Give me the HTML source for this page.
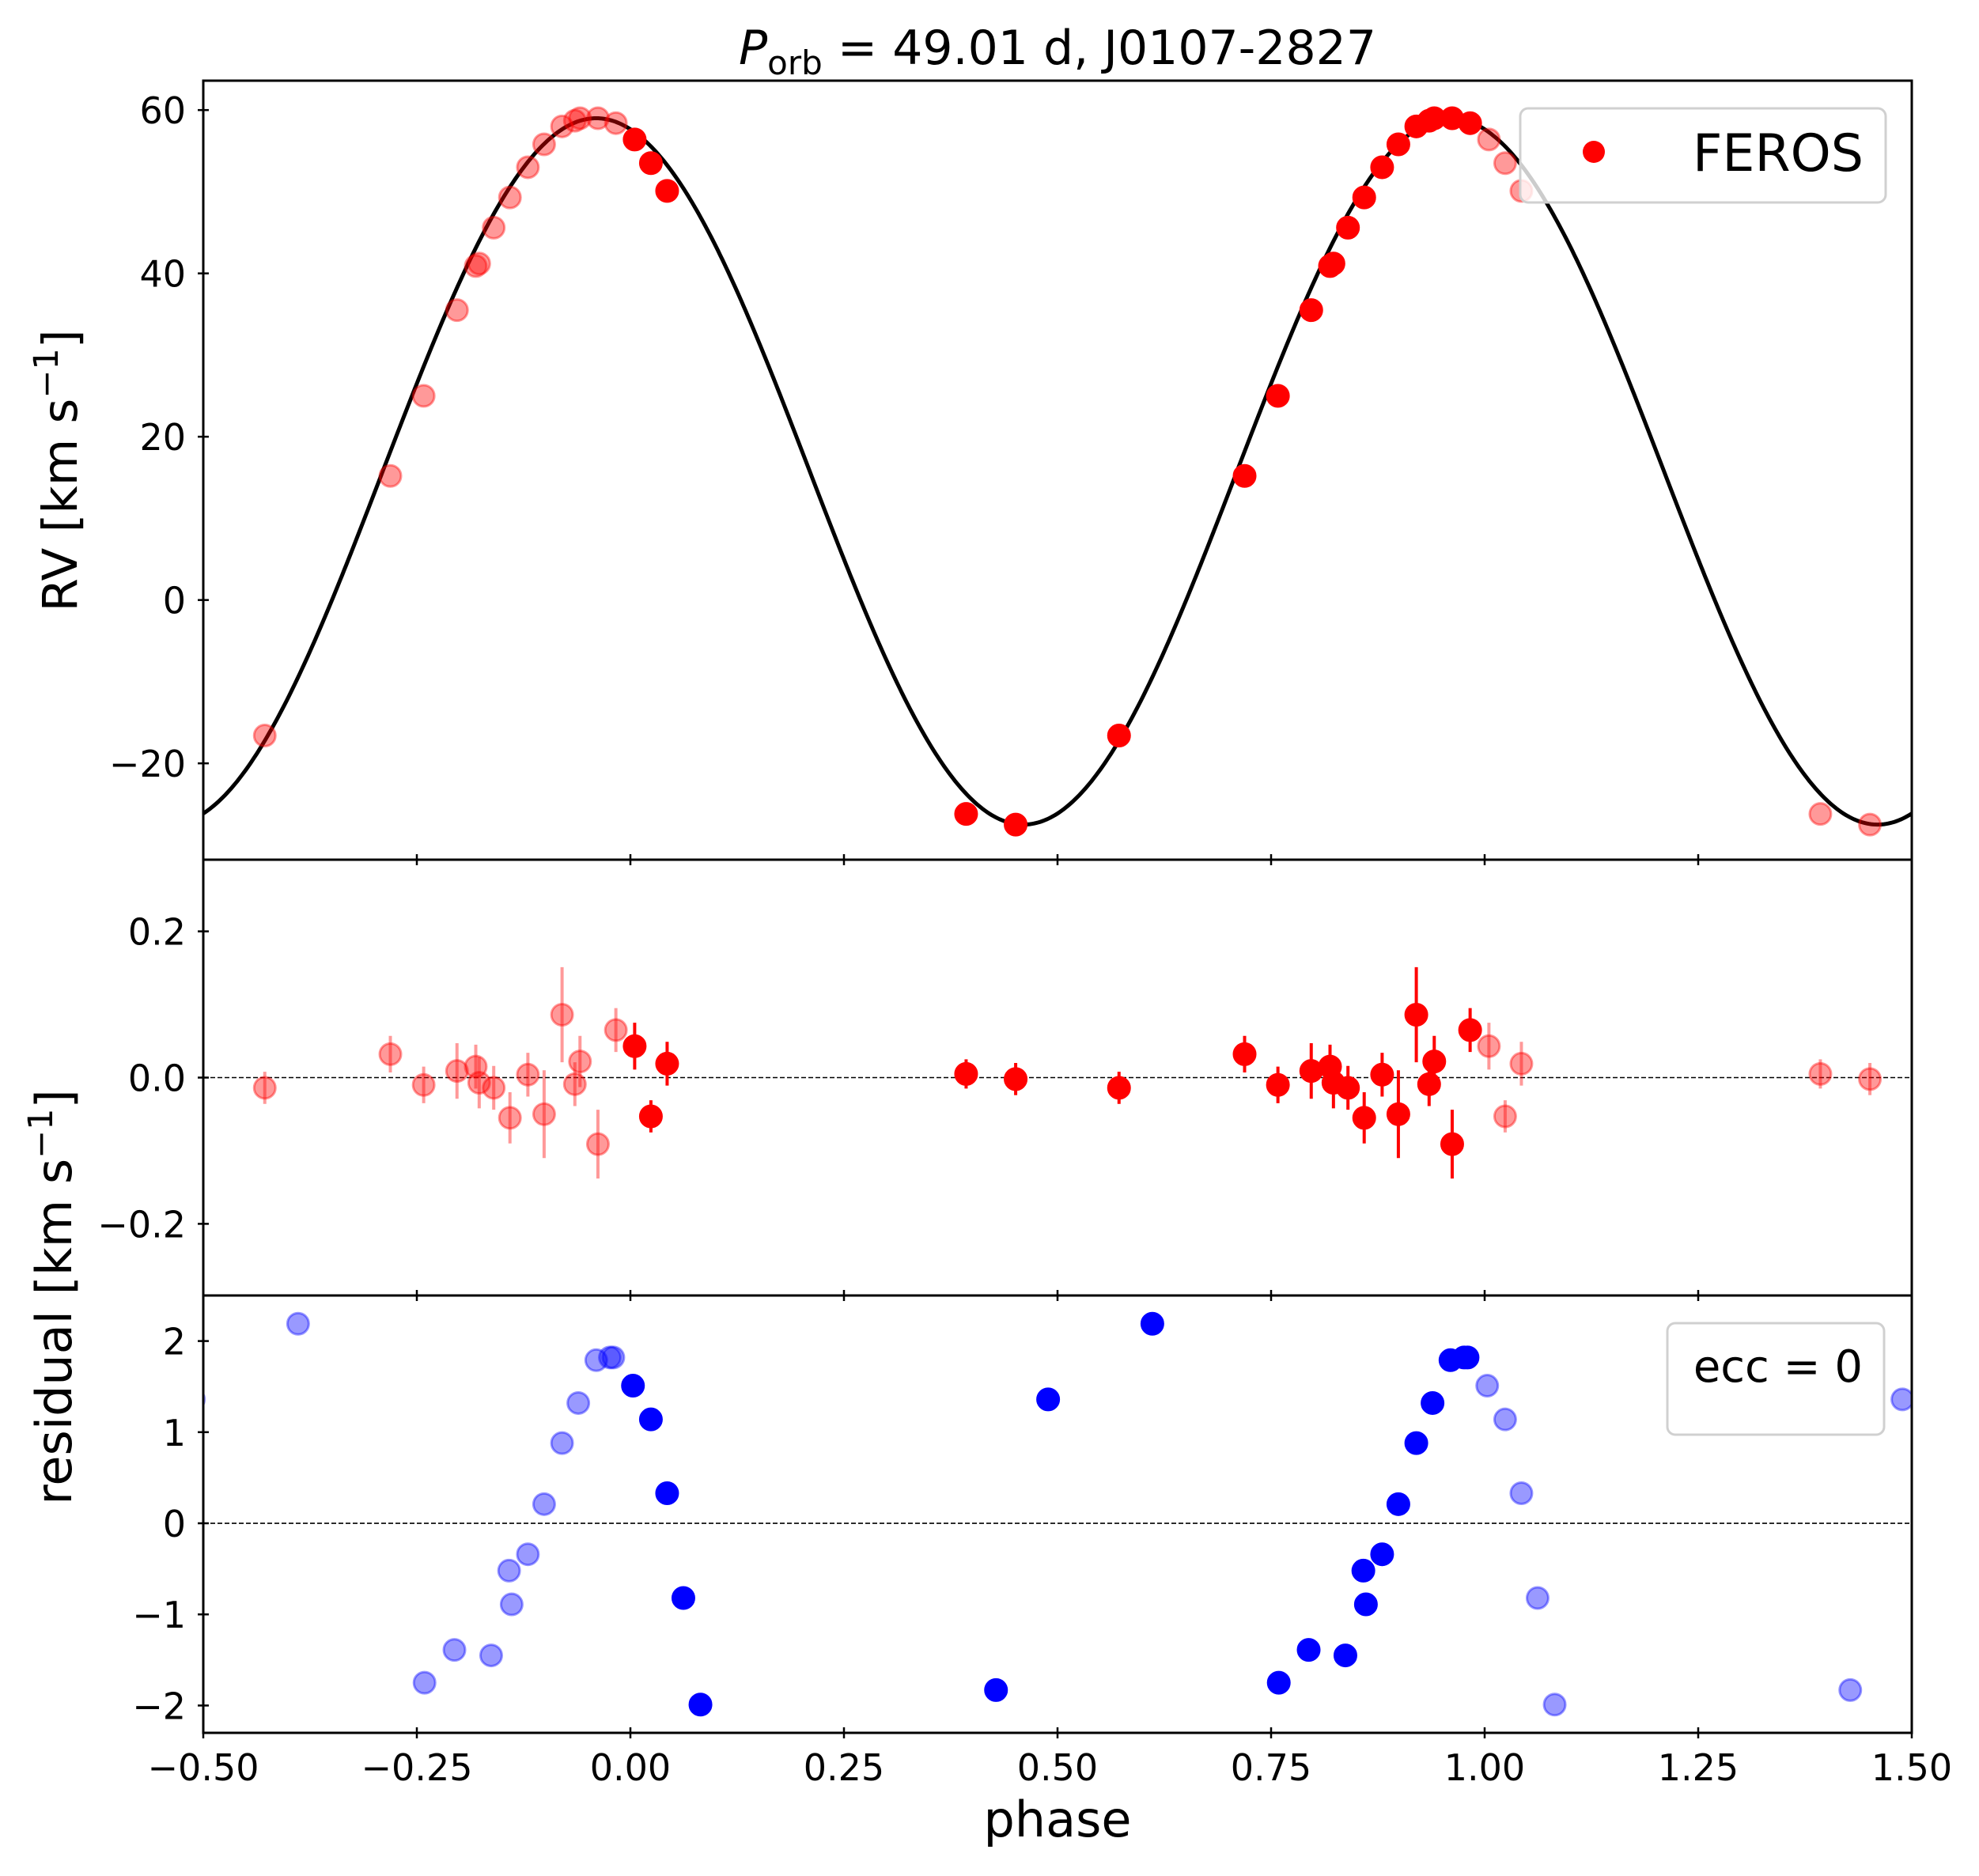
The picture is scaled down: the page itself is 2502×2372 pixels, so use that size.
<!DOCTYPE html>
<html><head><meta charset="utf-8"><style>
html,body{margin:0;padding:0;background:#fff}
svg{display:block;font-family:"DejaVu Sans","Liberation Sans",sans-serif}
</style></head><body>
<svg id="fig" width="2502" height="2372" viewBox="0 0 2502 2372" xmlns="http://www.w3.org/2000/svg">
<rect width="2502" height="2372" fill="#fff"/>
<g id="plots"></g>
<text x="1337" y="81" font-size="60" text-anchor="middle"><tspan font-style="italic">P</tspan><tspan font-size="42" dy="13">orb</tspan><tspan dy="-13"> = 49.01 d, J0107-2827</tspan></text>
<text transform="translate(97,595) rotate(-90)" font-size="61" text-anchor="middle">RV [km s<tspan font-size="43" dy="-24">−1</tspan><tspan dy="24">]</tspan></text>
<text transform="translate(90,1640) rotate(-90)" font-size="62" text-anchor="middle">residual [km s<tspan font-size="43" dy="-24">−1</tspan><tspan dy="24">]</tspan></text>
<text x="1337" y="2322" font-size="62" text-anchor="middle">phase</text>
</svg>
<script>
// ---- data ----
const phases = [0.005,0.024,0.043,0.393,0.451,0.572,0.719,0.758,0.797,0.819,0.823,0.840,0.859,0.880,0.899,0.920,0.935,0.941,0.962,0.983];
const rvValues = [56.4,53.5,50.1,-26.2,-27.5,-16.6,15.2,25.0,35.5,40.9,41.2,45.6,49.3,53.0,55.8,58.0,58.7,59.0,59.0,58.4];
const residValues = [0.043,-0.053,0.019,0.005,-0.002,-0.014,0.032,-0.010,0.009,0.015,-0.007,-0.014,-0.055,0.004,-0.050,0.086,-0.009,0.022,-0.091,0.065];
const residErrors = [0.032,0.022,0.030,0.020,0.022,0.022,0.025,0.025,0.038,0.030,0.035,0.030,0.035,0.030,0.060,0.065,0.030,0.035,0.047,0.030];
const eccPhases = [0.003,0.024,0.043,0.062,0.082,0.428,0.489,0.611,0.759,0.794,0.837,0.858,0.861,0.880,0.899,0.920,0.939,0.960,0.976,0.980];
const eccResid = [1.51,1.14,0.33,-0.82,-1.99,-1.83,1.36,2.19,-1.75,-1.39,-1.45,-0.52,-0.89,-0.34,0.21,0.88,1.32,1.79,1.82,1.82];
const xTicks = [-0.5,-0.25,0,0.25,0.5,0.75,1.0,1.25,1.5];
const xTickLabels = ["−0.50","−0.25","0.00","0.25","0.50","0.75","1.00","1.25","1.50"];
const rvTicks = [60,40,20,0,-20];
const rvTickLabels = ["60","40","20","0","−20"];
const resTicks = [0.2,0,-0.2];
const resTickLabels = ["0.2","0.0","−0.2"];
const eccTicks = [2,1,0,-1,-2];
const eccTickLabels = ["2","1","0","−1","−2"];
const modelK = 43.25, modelGamma = 15.75, modelPeak = -0.04;

// ---- layout ----
const NS = "http://www.w3.org/2000/svg";
const X0 = 257, X1 = 2417;
const xs = p => X0 + (p + 0.5) / 2 * (X1 - X0);
const panels = {
  top: {y0:102, y1:1087, ymin:-31.8, ymax:63.6},
  mid: {y0:1087, y1:1638, ymin:-0.298, ymax:0.298},
  bot: {y0:1638, y1:2191, ymin:-2.30, ymax:2.50}
};
function ys(pn, v){ const P = panels[pn]; return P.y1 - (v - P.ymin)/(P.ymax - P.ymin)*(P.y1 - P.y0); }
const root = document.getElementById('plots');
function el(tag, attrs, parent){ const e = document.createElementNS(NS, tag); for (const k in attrs) e.setAttribute(k, attrs[k]); (parent||root).appendChild(e); return e; }

const defs = el('defs', {});
['top','mid','bot'].forEach(pn => {
  const cp = el('clipPath', {id:'clip-'+pn}, defs);
  el('rect', {x:X0, y:panels[pn].y0, width:X1-X0, height:panels[pn].y1-panels[pn].y0}, cp);
});

function copies(p){ const out=[]; [-1,0,1].forEach(s=>{ const q=p+s; if(q>=-0.52 && q<=1.52) out.push({q:q, faded:s!==0}); }); return out; }

// ---- top panel ----
const gTop = el('g', {'clip-path':'url(#clip-top)'});


let d = '';
for (let i=0;i<=800;i++){ const p=-0.5+2*i/800; const v=modelGamma+modelK*Math.cos(2*Math.PI*(p-modelPeak)); d += (i?'L':'M')+xs(p).toFixed(1)+','+ys('top',v).toFixed(1); }
const curve = el('path', {d:d, fill:'none', stroke:'#000', 'stroke-width':5}, gTop);


phases.forEach((p,i)=>{
  copies(p).forEach(c=>{
    const m = el('circle', {cx:xs(c.q), cy:ys('top', rvValues[i]), r:13.5, fill:'red', 'fill-opacity':c.faded?0.4:1, stroke:'red', 'stroke-opacity':c.faded?0.4:1, 'stroke-width':3}, gTop);
    
    
  });
});

// ---- mid panel ----
const gMid = el('g', {'clip-path':'url(#clip-mid)'});


const z1 = el('line', {x1:X0, x2:X1, y1:ys('mid',0), y2:ys('mid',0), stroke:'#000', 'stroke-width':1.6, 'stroke-dasharray':'6,3'}, gMid);


phases.forEach((p,i)=>{
  copies(p).forEach(c=>{
    const o = c.faded?0.4:1;
    const eb = el('line', {x1:xs(c.q), x2:xs(c.q), y1:ys('mid', residValues[i]-residErrors[i]), y2:ys('mid', residValues[i]+residErrors[i]), stroke:'red', 'stroke-opacity':o, 'stroke-width':4}, gMid);
    
    
    const m = el('circle', {cx:xs(c.q), cy:ys('mid', residValues[i]), r:13.5, fill:'red', 'fill-opacity':o, stroke:'red', 'stroke-opacity':o, 'stroke-width':3}, gMid);
    
    
  });
});

// ---- bottom panel ----
const gBot = el('g', {'clip-path':'url(#clip-bot)'});


const z2 = el('line', {x1:X0, x2:X1, y1:ys('bot',0), y2:ys('bot',0), stroke:'#000', 'stroke-width':1.6, 'stroke-dasharray':'6,3'}, gBot);


eccPhases.forEach((p,i)=>{
  copies(p).forEach(c=>{
    const o = c.faded?0.4:1;
    const m = el('circle', {cx:xs(c.q), cy:ys('bot', eccResid[i]), r:13.5, fill:'blue', 'fill-opacity':o, stroke:'blue', 'stroke-opacity':o, 'stroke-width':3}, gBot);
    
    
  });
});

// ---- axes frames and ticks ----
['top','mid','bot'].forEach(pn=>{
  const P = panels[pn];
  const fr = el('rect', {x:X0, y:P.y0, width:X1-X0, height:P.y1-P.y0, fill:'none', stroke:'#000', 'stroke-width':3});
  
  
  xTicks.forEach(t=>{
    const tk = el('line', {x1:xs(t), x2:xs(t), y1:P.y1-7, y2:P.y1+7, stroke:'#000', 'stroke-width':2.5});
    
    
  });
});
function yAxis(pn, ticks, labels){
  ticks.forEach((t,i)=>{
    const y = ys(pn,t);
    const tk = el('line', {x1:X0-7, x2:X0+7, y1:y, y2:y, stroke:'#000', 'stroke-width':2.5});
    
    
    const tl = el('text', {x:X0-22, y:y+17, 'font-size':46, 'text-anchor':'end'});
    tl.textContent = labels[i];
    
    
  });
}
yAxis('top', rvTicks, rvTickLabels);
yAxis('mid', resTicks, resTickLabels);
yAxis('bot', eccTicks, eccTickLabels);
xTicks.forEach((t,i)=>{
  const tl = el('text', {x:xs(t), y:2251, 'font-size':46, 'text-anchor':'middle'});
  tl.textContent = xTickLabels[i];
  
  
});

// ---- legends ----
const lg = el('g', {});


el('rect', {x:1922, y:137, width:462, height:119, rx:10, fill:'#fff', 'fill-opacity':0.8, stroke:'#d0d0d0', 'stroke-width':3}, lg);
const lm = el('circle', {cx:2015, cy:192, r:14, fill:'red'}, lg);


const lt = el('text', {x:2140, y:216, 'font-size':65}, lg);
lt.textContent = 'FEROS';



const lg2 = el('g', {});


el('rect', {x:2108, y:1673, width:274, height:141, rx:10, fill:'#fff', 'fill-opacity':0.8, stroke:'#d0d0d0', 'stroke-width':3}, lg2);
const et = el('text', {x:2355, y:1747, 'font-size':56, 'text-anchor':'end'}, lg2);
et.textContent = 'ecc = 0';


</script>
</body></html>
